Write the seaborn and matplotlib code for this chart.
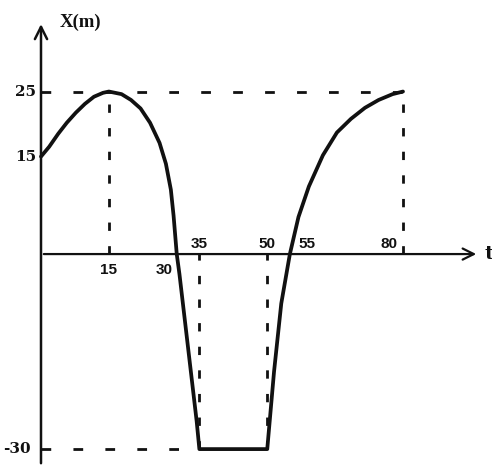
import pandas as pd
import matplotlib
matplotlib.use("Agg")
import matplotlib.pyplot as plt
import seaborn as sns

# punti: tempo t (s) e posizione X (m)
t_vals = [0, 1.8, 3.8, 5.7, 7.7, 9.7, 11.7, 13.7, 15,
          17.8, 19.9, 22.0, 24.1, 26.2, 27.6, 28.7, 29.3, 30,
          30.6, 32.5, 34.4, 35,
          50, 51.5, 53.1, 55,
          56.9, 59.2, 62.3, 65.4, 68.5, 71.6, 74.6, 77.7, 80]
x_vals = [15, 16.5, 18.5, 20.2, 21.75, 23.1, 24.2, 24.8, 25,
          24.6, 23.7, 22.4, 20.2, 17.1, 13.9, 9.9, 5.9, 0,
          -3.1, -14.4, -25.7, -30,
          -30, -18.1, -7.6, 0,
          5.7, 10.4, 15.2, 18.7, 20.8, 22.5, 23.7, 24.6, 25]

# etichette sugli assi
t_ticks_below = [15, 30]
t_ticks_above = [35, 50, 55, 80]
x_ticks = [25, 15, -30]

df = pd.DataFrame({"t": t_vals, "X": x_vals})

sns.set_style("white")
plt.rcParams["font.family"] = ["Liberation Sans", "DejaVu Sans"]

fig = plt.figure(figsize=(4.92, 4.66), dpi=100)
ax = fig.add_axes([0, 0, 1, 1])
ax.set_xlim(-9.06, 99.67)
ax.set_ylim(-32.6, 39.08)
ax.axis("off")

ink = "#111111"

# assi con frecce
ax.annotate("", xy=(96.8, 0), xytext=(0, 0),
            arrowprops=dict(arrowstyle="->", color=ink, lw=1.6, mutation_scale=20))
ax.annotate("", xy=(0, 35.8), xytext=(0, -32.6),
            arrowprops=dict(arrowstyle="->", color=ink, lw=1.8, mutation_scale=22))
ax.text(98.0, 0, "t", fontsize=14, fontweight="bold", ha="left", va="center",
        family=["DejaVu Serif"], color=ink)
ax.text(4.2, 35.6, "X(m)", fontsize=13.5, fontweight="bold", ha="left", va="center",
        family=["Liberation Serif"], color=ink)

# linee tratteggiate di riferimento
hdash = dict(color=ink, lw=2.0, linestyle=(0, (3.5, 8.0)))
vdash = dict(color=ink, lw=2.0, linestyle=(0, (3.0, 5.5)))
ax.hlines(25, 0, 80, **hdash)
ax.hlines(-30, 0, 35, **hdash)
ax.vlines(15, 0, 25, **vdash)
ax.vlines(80, 0, 25, **vdash)
ax.vlines(35, -30, 0, **vdash)
ax.vlines(50, -30, 0, **vdash)

# curva posizione-tempo
sns.lineplot(data=df, x="t", y="X", sort=False, estimator=None,
             color=ink, linewidth=2.7, ax=ax)

# etichette dei valori
lab = dict(fontsize=11, fontweight="bold", color=ink)
for tv in t_ticks_below:
    if tv == 15:
        ax.text(tv, -1.3, str(tv), ha="center", va="top", **lab)
    else:
        ax.text(tv - 1.0, -1.3, str(tv), ha="right", va="top", **lab)
for tv in t_ticks_above:
    if tv == 55:
        ax.text(tv + 1.8, 0.5, str(tv), ha="left", va="bottom", **lab)
    elif tv == 80:
        ax.text(tv - 1.3, 0.5, str(tv), ha="right", va="bottom", **lab)
    else:
        ax.text(tv, 0.5, str(tv), ha="center", va="bottom", **lab)
for xv in x_ticks:
    dx = -2.2 if xv < 0 else -1.0
    ax.text(dx, xv, str(xv), fontsize=11, fontweight="bold", ha="right",
            va="center", family=["DejaVu Serif"], color=ink)

fig.savefig("out.png", dpi=100)
